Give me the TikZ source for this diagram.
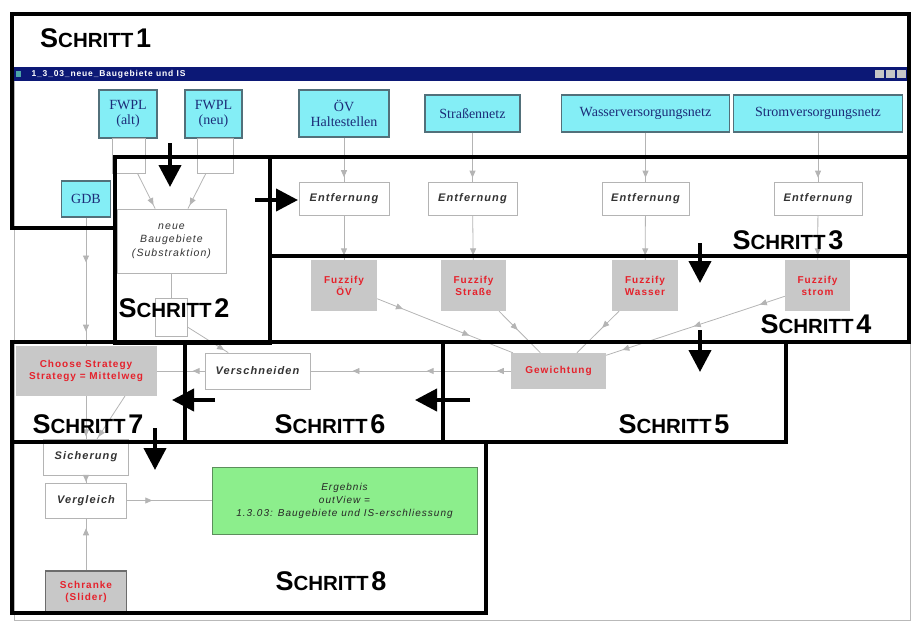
\documentclass[tikz,border=0pt]{standalone}
\usepackage{fontspec}
\setmainfont{Liberation Sans}
\newfontfamily\srcfont{Liberation Serif}
\newfontfamily\procfont[LetterSpace=10]{Liberation Sans}
\usepackage{tikz}
\usetikzlibrary{arrows.meta,decorations.markings,calc}
\usepackage{tkz-euclide}
\usepackage{xcolor}
\definecolor{ModelCyan}{HTML}{84EEF6}
\definecolor{ModelCyanLine}{HTML}{52707A}
\definecolor{ModelBlue}{HTML}{1C2C78}
\definecolor{ModelGrey}{HTML}{C8C8C8}
\definecolor{ModelRed}{HTML}{E5222C}
\definecolor{ModelGreen}{HTML}{8CEE8C}
\definecolor{ModelGreenLine}{HTML}{5C8E5C}
\definecolor{ModelLine}{HTML}{B4B4B4}
\definecolor{TitleNavy}{HTML}{0C1876}
\newcommand{\Schritt}[1]{\bfseries{\fontsize{27}{27}\selectfont S}{\fontsize{20.5}{21}\selectfont CHRITT} {\fontsize{27}{27}\selectfont #1}}

\begin{document}
\begin{tikzpicture}[x=1pt,y=-1pt,
   srcbox/.style={draw=ModelCyanLine,line width=1.3pt,fill=ModelCyan,text=ModelBlue,
      font=\srcfont\fontsize{14}{15}\selectfont,align=center,inner sep=0pt},
   procbox/.style={draw=ModelLine,line width=0.8pt,fill=white,text=black!80,
      font=\procfont\fontsize{11}{13}\selectfont\bfseries\itshape,align=center,inner sep=0pt},
   toolbox/.style={fill=ModelGrey,text=ModelRed,
      font=\procfont\fontsize{10}{12}\selectfont\bfseries,align=center,inner sep=0pt},
   resultbox/.style={draw=ModelGreenLine,line width=1pt,fill=ModelGreen,text=black!85,
      font=\procfont\fontsize{10}{13}\selectfont\itshape,align=center,inner sep=0pt},
   ghost/.style={draw=ModelLine,line width=0.8pt,inner sep=0pt},
   conn/.style={ModelLine,line width=0.8pt},
   marrow/.style={postaction={decorate,decoration={markings,
      mark=at position #1 with {\arrow{Triangle[length=7pt,width=6pt]}}}}},
   frame/.style={line width=3.5pt,line join=miter},
   bigarrow/.style={line width=4pt,-{Triangle[length=22pt,width=22pt]}},
   steplabel/.style={inner sep=0pt}]
   \useasboundingbox (0,0) rectangle (912,627);
   \tkzDefPoints{12/14/fa,909/14/fb,909/157/fc,115/157/fd,115/228/fe,12/228/ff}
   \tkzDefPoints{270/343/sb,270/157/sc,909/256/sd,270/256/se,909/342/sf}
   \tkzDefPoints{443/342/sg,786/442/sh,185/342/si,443/442/sj,12/342/sk,185/442/sl}
   \tkzDefPoints{12/442/sm,486/613/sn}
   \tkzDefPoints{170/143/aa,170/187/ab,255/200/ac,298/200/ad,700/243/ae,700/283/af}
   \tkzDefPoints{700/330/ag,700/372/ah,470/400/ai,415/400/aj,215/400/ak,172/400/al}
   \tkzDefPoints{155/428/am,155/470/an}

   \draw[gray!55,line width=0.8pt] (14,67) rectangle (910,620);
   \fill[TitleNavy] (14,67) rectangle (910,81);
   \fill[teal!70] (16,71) rectangle (21,77);
   \node[anchor=west,text=white,font=\procfont\fontsize{8.5}{9}\selectfont\bfseries] (wintitle) at (28,74) {1\_3\_03\_neue\_Baugebiete und IS};
   \foreach \bx in {875,886,897}
      \fill[gray!45] (\bx,70) rectangle ++(9,8);

   \node[srcbox,minimum width=58,minimum height=48] (fwplAlt) at (128,114) {FWPL\\(alt)};
   \node[srcbox,minimum width=57,minimum height=48] (fwplNeu) at (213.5,114) {FWPL\\(neu)};
   \node[srcbox,minimum width=90,minimum height=47] (oevHalt) at (344,113.5) {ÖV\\Haltestellen};
   \node[srcbox,minimum width=95,minimum height=37] (strasse) at (472.5,113.5) {Straßennetz};
   \node[srcbox,minimum width=168,minimum height=37] (wasser) at (645.5,113.5) {Wasserversorgungsnetz};
   \node[srcbox,minimum width=169,minimum height=37] (strom) at (818,113.5) {Stromversorgungsnetz};
   \node[srcbox,minimum width=49,minimum height=36] (gdb) at (86,199) {GDB};

   \node[ghost,minimum width=33,minimum height=35] (fwplAltOut) at (128.5,155.5) {};
   \node[ghost,minimum width=36,minimum height=35] (fwplNeuOut) at (215,155.5) {};
   \node[ghost,minimum width=32,minimum height=38] (neueBauOut) at (171.5,317) {};

   \node[procbox,minimum width=90,minimum height=33] (entf1) at (344,198.5) {Entfernung};
   \node[procbox,minimum width=89,minimum height=33] (entf2) at (472.5,198.5) {Entfernung};
   \node[procbox,minimum width=87,minimum height=33] (entf3) at (645.5,198.5) {Entfernung};
   \node[procbox,minimum width=88,minimum height=33] (entf4) at (818,198.5) {Entfernung};
   \node[procbox,minimum width=109,minimum height=64,font=\procfont\fontsize{10.5}{13.5}\selectfont\itshape] (neueBau) at (171.5,241) {neue\\Baugebiete\\(Substraktion)};
   \node[procbox,minimum width=105,minimum height=36] (versch) at (257.5,371) {Verschneiden};
   \node[procbox,minimum width=85,minimum height=36] (sicher) at (86,457) {Sicherung};
   \node[procbox,minimum width=81,minimum height=35] (vergl) at (86,500.5) {Vergleich};

   \node[toolbox,minimum width=66,minimum height=51] (fuzOev) at (344,285.5) {Fuzzify\\ÖV};
   \node[toolbox,minimum width=65,minimum height=51] (fuzStr) at (473.5,285.5) {Fuzzify\\Straße};
   \node[toolbox,minimum width=66,minimum height=51] (fuzWas) at (645,285.5) {Fuzzify\\Wasser};
   \node[toolbox,minimum width=65,minimum height=51] (fuzStrom) at (817.5,285.5) {Fuzzify\\strom};
   \node[toolbox,minimum width=95,minimum height=36] (gewicht) at (558.5,371) {Gewichtung};
   \node[toolbox,minimum width=141,minimum height=50] (choose) at (86,371) {Choose Strategy\\Strategy = Mittelweg};
   \node[toolbox,draw=gray!85!black,line width=1.6pt,minimum width=81,minimum height=42] (schranke) at (86,592) {Schranke\\(Slider)};
   \node[resultbox,minimum width=265,minimum height=67] (ergebnis) at (344.5,500.5) {Ergebnis\\outView =\\1.3.03: Baugebiete und IS-erschliessung};

   \coordinate (chooseOut) at (125,396);
   \coordinate (sicherIn) at (97,439);

   \draw[conn,marrow=0.9] (fwplAltOut) -- (neueBau);
   \draw[conn,marrow=0.9] (fwplNeuOut) -- (neueBau);
   \draw[conn] (neueBau) -- (neueBauOut);
   \draw[conn,marrow=0.9] (neueBauOut) -- (versch);
   \draw[conn,marrow=0.35,marrow=0.89] (gdb) -- (choose);
   \draw[conn,marrow=0.9] (oevHalt) -- (entf1);
   \draw[conn,marrow=0.92] (strasse) -- (entf2);
   \draw[conn,marrow=0.92] (wasser) -- (entf3);
   \draw[conn,marrow=0.92] (strom) -- (entf4);
   \draw[conn,marrow=0.9] (entf1) -- (fuzOev);
   \draw[conn,marrow=0.9] (entf2) -- (fuzStr);
   \draw[conn,marrow=0.9] (entf3) -- (fuzWas);
   \draw[conn,marrow=0.9] (entf4) -- (fuzStrom);
   \draw[conn,marrow=0.19,marrow=0.68] (fuzOev) -- (gewicht);
   \draw[conn,marrow=0.45] (fuzStr) -- (gewicht);
   \draw[conn,marrow=0.4] (fuzWas) -- (gewicht);
   \draw[conn,marrow=0.14,marrow=0.51,marrow=0.91] (fuzStrom) -- (gewicht);
   \draw[conn,marrow=0.07,marrow=0.42,marrow=0.79] (gewicht) -- (versch);
   \draw[conn,marrow=0.25] (versch) -- (choose);
   \draw[conn,marrow=0.95] (choose) -- (sicher);
   \draw[conn,marrow=0.95] (chooseOut) -- (sicherIn);
   \draw[conn,marrow=0.9] (sicher) -- (vergl);
   \draw[conn,marrow=0.81] (schranke) -- (vergl);
   \draw[conn,marrow=0.3] (vergl) -- (ergebnis);

   \draw[frame] (fa) -- (fb) -- (fc) -- (fd) -- (fe) -- (ff) -- cycle;
   \draw[frame] (fd) rectangle (sb);
   \draw[frame] (sc) rectangle (sd);
   \draw[frame] (se) rectangle (sf);
   \draw[frame] (sg) rectangle (sh);
   \draw[frame] (si) rectangle (sj);
   \draw[frame] (sk) rectangle (sl);
   \draw[frame] (sm) rectangle (sn);

   \draw[bigarrow] (aa) -- (ab);
   \draw[bigarrow] (ac) -- (ad);
   \draw[bigarrow] (ae) -- (af);
   \draw[bigarrow] (ag) -- (ah);
   \draw[bigarrow] (ai) -- (aj);
   \draw[bigarrow] (ak) -- (al);
   \draw[bigarrow] (am) -- (an);

   \node[steplabel,anchor=west] (step1) at (40,38) {\Schritt{1}};
   \node[steplabel] (step2) at (174,308) {\Schritt{2}};
   \node[steplabel] (step3) at (788,240) {\Schritt{3}};
   \node[steplabel] (step4) at (816,324) {\Schritt{4}};
   \node[steplabel] (step5) at (674,424) {\Schritt{5}};
   \node[steplabel] (step6) at (330,424) {\Schritt{6}};
   \node[steplabel] (step7) at (88,424) {\Schritt{7}};
   \node[steplabel] (step8) at (331,581) {\Schritt{8}};
\end{tikzpicture}
\end{document}
